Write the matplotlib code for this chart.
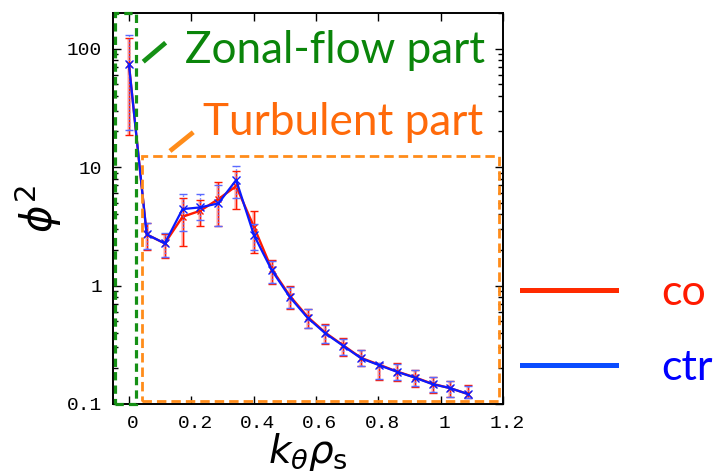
import numpy as np
import matplotlib
matplotlib.use("Agg")
import matplotlib.pyplot as plt
from matplotlib.lines import Line2D
from matplotlib.patches import Rectangle
import matplotlib.transforms as mtransforms

# ---- data ----
k_theta_rho_s = [0.0, 0.057, 0.115, 0.172, 0.229, 0.287, 0.344, 0.401, 0.458, 0.516,
                 0.573, 0.630, 0.688, 0.745, 0.802, 0.860, 0.917, 0.974, 1.031, 1.089]

co_phi2 = [73.6, 2.70, 2.27, 3.81, 4.28, 5.37, 6.91, 3.13, 1.38, 0.82,
           0.545, 0.400, 0.312, 0.245, 0.215, 0.188, 0.168, 0.148, 0.136, 0.121]
co_lo = [18.6, 2.00, 1.70, 2.17, 3.18, 3.18, 4.42, 1.87, 1.04, 0.63,
         0.435, 0.320, 0.256, 0.209, 0.159, 0.157, 0.140, 0.125, 0.114, 0.113]
co_hi = [122.0, 3.39, 2.75, 5.45, 5.30, 7.50, 9.30, 4.28, 1.64, 0.99,
         0.635, 0.470, 0.360, 0.286, 0.220, 0.220, 0.194, 0.170, 0.156, 0.144]

ctr_phi2 = [73.6, 2.70, 2.27, 4.42, 4.57, 4.94, 7.77, 2.67, 1.35, 0.80,
            0.535, 0.395, 0.309, 0.243, 0.213, 0.187, 0.167, 0.147, 0.136, 0.121]
ctr_lo = [20.5, 2.05, 1.75, 2.89, 3.58, 3.18, 5.45, 2.00, 1.05, 0.64,
          0.44, 0.325, 0.258, 0.210, 0.162, 0.158, 0.141, 0.126, 0.115, 0.113]
ctr_hi = [130.0, 3.35, 2.80, 5.90, 5.90, 7.00, 10.3, 3.30, 1.62, 0.98,
          0.63, 0.465, 0.355, 0.284, 0.222, 0.218, 0.192, 0.168, 0.155, 0.143]

x_ticks = [0, 0.2, 0.4, 0.6, 0.8, 1.0, 1.2]
x_tick_labels = ["0", "0.2", "0.4", "0.6", "0.8", "1", "1.2"]
y_ticks = [0.1, 1, 10, 100]
y_tick_labels = ["0.1", "1", "10", "100"]

# region boxes (data coords)
zonal_box = (-0.046, 0.1, 0.024, 200)      # x0, y0, x1, y1
turb_box = (0.043, 0.1066, 1.188, 12.4)

series_labels = ["co", "ctr"]

# ---- styling ----
RED = "#ff1a00"
BLUE = "#0a1aff"
GREEN = "#159015"
GREEN_TXT = "#0a850a"
ORANGE = "#ff8c1a"
ORANGE_TXT = "#ff6a0a"

fig = plt.figure(figsize=(7.22, 4.74), dpi=100)
ax = fig.add_axes([0.157, 0.1477, 0.5396, 0.8249])
ax.set_yscale("log")

x = np.array(k_theta_rho_s)
yc = np.array(co_phi2)
yt = np.array(ctr_phi2)

# red errorbars (translucent overlay + solid)
ax.errorbar(x, yc, yerr=[yc - np.array(co_lo), np.array(co_hi) - yc], fmt="none",
            ecolor="#ff8080", elinewidth=2.6, alpha=0.5, capsize=0, zorder=2)
ax.errorbar(x, yc, yerr=[yc - np.array(co_lo), np.array(co_hi) - yc], fmt="none",
            ecolor=RED, elinewidth=1.0, capsize=3.2, capthick=1.0, zorder=3)
ax.plot(x, yc, color=RED, lw=1.7, marker="x", ms=4, mew=1.0, zorder=4)

# blue errorbars (dotted)
eb = ax.errorbar(x, yt, yerr=[yt - np.array(ctr_lo), np.array(ctr_hi) - yt], fmt="none",
                 ecolor="#5a6aff", elinewidth=1.0, capsize=2.6, capthick=1.0, zorder=5)
for lc in eb[2]:
    lc.set_linestyle((0, (1, 1.5)))
ax.plot(x, yt, color=BLUE, lw=1.6, marker="x", ms=5.5, mew=1.0, zorder=6)

ax.set_xlim(-0.05, 1.2)
ax.set_ylim(0.1, 200)

# dashed region boxes
zx0, zy0, zx1, zy1 = zonal_box
ax.add_patch(Rectangle((zx0, zy0), zx1 - zx0, zy1 - zy0, fill=False, edgecolor=GREEN,
                       lw=2.3, linestyle=(0, (2.6, 1.6)), clip_on=False, zorder=7))
tx0, ty0, tx1, ty1 = turb_box
ax.add_patch(Rectangle((tx0, ty0), tx1 - tx0, ty1 - ty0, fill=False, edgecolor=ORANGE,
                       lw=2.0, linestyle=(0, (3.4, 1.8)), clip_on=False, zorder=7))

# annotation slashes and texts (axes fraction)
ax.plot([0.0767, 0.1342], [0.8754, 0.924], transform=ax.transAxes, color=GREEN,
        lw=3.4, solid_capstyle="butt", clip_on=False, zorder=8)
ax.plot([0.1453, 0.2051], [0.647, 0.695], transform=ax.transAxes, color=ORANGE,
        lw=3.4, solid_capstyle="butt", clip_on=False, zorder=8)
ax.text(0.1838, 0.873, "Zonal-flow part", transform=ax.transAxes, color=GREEN_TXT,
        fontsize=31.8, family="Lato", ha="left", va="baseline")
ax.text(0.230, 0.688, "Turbulent part", transform=ax.transAxes, color=ORANGE_TXT,
        fontsize=31.8, family="Lato", ha="left", va="baseline")

# ticks
ax.set_xticks(x_ticks)
ax.set_xticklabels(x_tick_labels)
ax.set_yticks(y_ticks)
ax.set_yticklabels(y_tick_labels)
ax.tick_params(which="both", direction="in", top=True, right=True, width=1.0)
ax.tick_params(which="major", length=6, labelsize=14, pad=8)
ax.tick_params(which="minor", length=3.5)
for lab in ax.get_xticklabels() + ax.get_yticklabels():
    lab.set_family("Liberation Mono")
offset = mtransforms.ScaledTranslation(4 / 100, 0, fig.dpi_scale_trans)
for lab in ax.get_xticklabels():
    lab.set_transform(lab.get_transform() + offset)
for sp in ax.spines.values():
    sp.set_linewidth(1.4)

ax.set_xlabel(r"$k_{\theta}\rho_{\mathrm{s}}$", fontsize=28, labelpad=-1)
ax.set_ylabel(r"$\phi^2$", fontsize=30, labelpad=2)

# legend
handles = [Line2D([], [], color="#ff2a00", lw=3.6),
           Line2D([], [], color="#0a4cff", lw=3.6)]
leg = fig.legend(handles, series_labels, loc="upper left", bbox_to_anchor=(0.669, 0.503),
                 frameon=False, handlelength=2.2, handletextpad=1.05,
                 labelspacing=0.85, prop={"family": "Lato", "size": 31})
for t, c in zip(leg.get_texts(), [RED, "#0000ff"]):
    t.set_color(c)

fig.savefig("out.png", dpi=100)
